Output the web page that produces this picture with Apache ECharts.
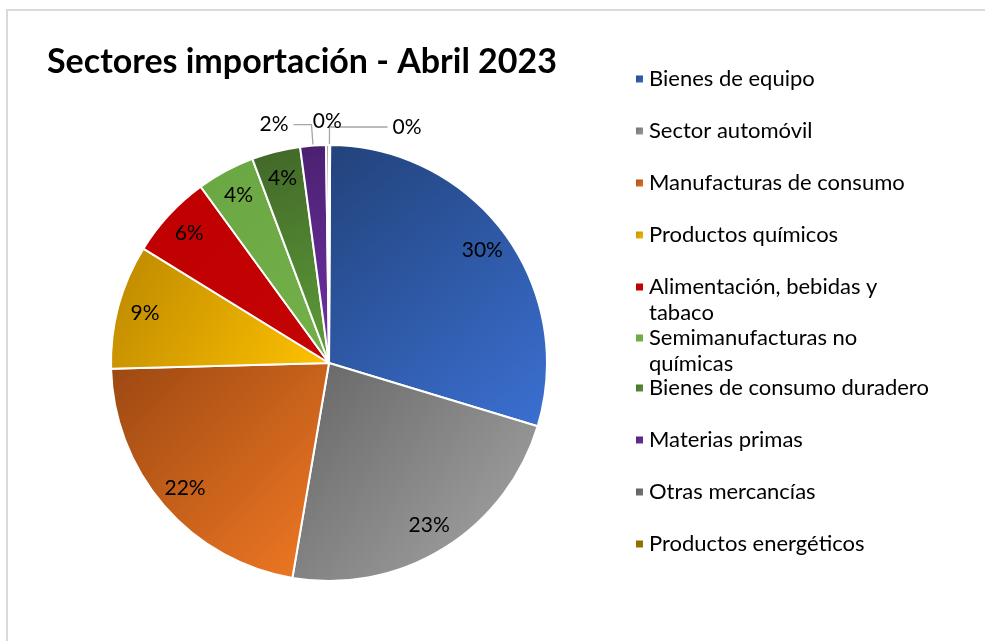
<!DOCTYPE html>
<html>
<head>
<meta charset="utf-8">
<title>Sectores importación - Abril 2023</title>
<script src="https://cdn.jsdelivr.net/npm/echarts@6/dist/echarts.min.js"></script>
<style>
  body { margin: 0; background: #fff; }
  .marco {
    position: absolute; left: 6px; top: 9px; width: 1000px; height: 700px;
    border-top: 2px solid #d9d9d9; border-left: 2px solid #d9d9d9;
  }
  #chart { position: absolute; left: 0; top: 0; width: 985px; height: 641px; }
</style>
</head>
<body>
<div class="marco"></div>
<div id="chart"></div>
<script>
// datos (porcentaje de las importaciones)
var sectores = [
  'Bienes de equipo',
  'Sector automóvil',
  'Manufacturas de consumo',
  'Productos químicos',
  'Alimentación, bebidas y tabaco',
  'Semimanufacturas no químicas',
  'Bienes de consumo duradero',
  'Materias primas',
  'Otras mercancías',
  'Productos energéticos'
];
var valores = [29.6, 23.0, 21.9, 9.2, 6.2, 4.3, 3.6, 1.9, 0.2, 0.1];

// degradado de cada sector: esquina oscura -> esquina clara
var coloresOscuros = ['#22427a', '#656565', '#9c4812', '#bb8700', '#c00000', '#6aa742', '#416628', '#4a2070', '#5a5a5a', '#8a6800'];
var coloresClaros = ['#3b70d2', '#a8a8a8', '#f27a24', '#ffc200', '#c40404', '#74b04a', '#5e9e38', '#7232a6', '#7a7a7a', '#a07800'];

var FUENTE = 'Lato, "Open Sans", sans-serif';
var centro = [329, 363];
var radio = 218;

function degradado(i) {
  return new echarts.graphic.LinearGradient(0, 0, 1, 1, [
    { offset: 0, color: coloresOscuros[i] },
    { offset: 1, color: coloresClaros[i] }
  ]);
}

function pct(p) {
  return Math.round(p.percent) + '%';
}

var myChart = echarts.init(document.getElementById('chart'));

// porciones
var datosPie = sectores.map(function (s, i) {
  var d = { name: s, value: valores[i], itemStyle: { color: degradado(i) }, label: { show: false } };
  if (s === 'Materias primas') {
    d.label = { show: true, position: 'outside' };
    d.labelLine = { show: true, length: 21, length2: 18 };
  }
  if (s === 'Productos energéticos') {
    d.label = { show: true, position: 'outside' };
    d.labelLine = { show: true, length: 18, length2: 58 };
  }
  return d;
});

// etiquetas interiores (serie transparente, mismos datos)
var datosEtiquetas = sectores.map(function (s, i) {
  return { name: s, value: valores[i], label: { show: i < 7 } };
});

// etiqueta sobre el borde para "Otras mercancías"
var datosArriba = sectores.map(function (s, i) {
  return { name: s, value: valores[i], label: { show: s === 'Otras mercancías' } };
});

var leyendaBase = {
  orient: 'vertical',
  left: 634,
  padding: 0,
  itemWidth: 9,
  itemHeight: 9,
  itemGap: 26,
  icon: 'rect',
  selectedMode: false,
  textStyle: { fontFamily: FUENTE, fontSize: 22, color: '#000', lineHeight: 26 }
};

function leyenda(nombres, top, dosLineas) {
  var l = Object.assign({}, leyendaBase, { data: nombres, top: top });
  if (dosLineas) {
    // línea vacía delante para que la primera línea quede a la altura del icono
    l.formatter = function (n) {
      return '\n' + n.replace(/ (tabaco|químicas)$/, '\n$1');
    };
  }
  return l;
}

var option = {
  animation: false,
  title: {
    text: 'Sectores importación - Abril 2023',
    left: 47,
    top: 44,
    padding: 0,
    textStyle: { fontFamily: FUENTE, fontSize: 34, fontWeight: 'bold', color: '#000', lineHeight: 36 }
  },
  legend: [
    leyenda(sectores.slice(0, 4), 66, false),
    leyenda([sectores[4]], 248, true),
    leyenda([sectores[5]], 299, true),
    leyenda(sectores.slice(6), 375, false)
  ],
  series: [
    {
      name: 'Sectores',
      type: 'pie',
      center: centro,
      radius: radio,
      startAngle: 89.7,
      avoidLabelOverlap: false,
      itemStyle: { borderColor: '#fff', borderWidth: 2 },
      label: { formatter: pct, fontFamily: FUENTE, fontSize: 21, color: '#000' },
      labelLine: { lineStyle: { color: '#a6a6a6', width: 1.3 }, smooth: false },
      emphasis: { disabled: true },
      data: datosPie
    },
    {
      name: 'Etiquetas',
      type: 'pie',
      center: centro,
      radius: [157, radio],
      startAngle: 89.7,
      silent: true,
      avoidLabelOverlap: false,
      itemStyle: { color: 'rgba(0,0,0,0)', borderWidth: 0 },
      label: { position: 'inside', formatter: pct, fontFamily: FUENTE, fontSize: 21, color: '#000' },
      emphasis: { disabled: true },
      data: datosEtiquetas
    },
    {
      name: 'Etiquetas borde',
      type: 'pie',
      center: centro,
      radius: [226, 252],
      startAngle: 89.7,
      silent: true,
      avoidLabelOverlap: false,
      itemStyle: { color: 'rgba(0,0,0,0)', borderWidth: 0 },
      label: { position: 'inside', formatter: pct, fontFamily: FUENTE, fontSize: 21, color: '#000' },
      emphasis: { disabled: true },
      data: datosArriba
    }
  ]
};

option && myChart.setOption(option);
</script>
</body>
</html>
